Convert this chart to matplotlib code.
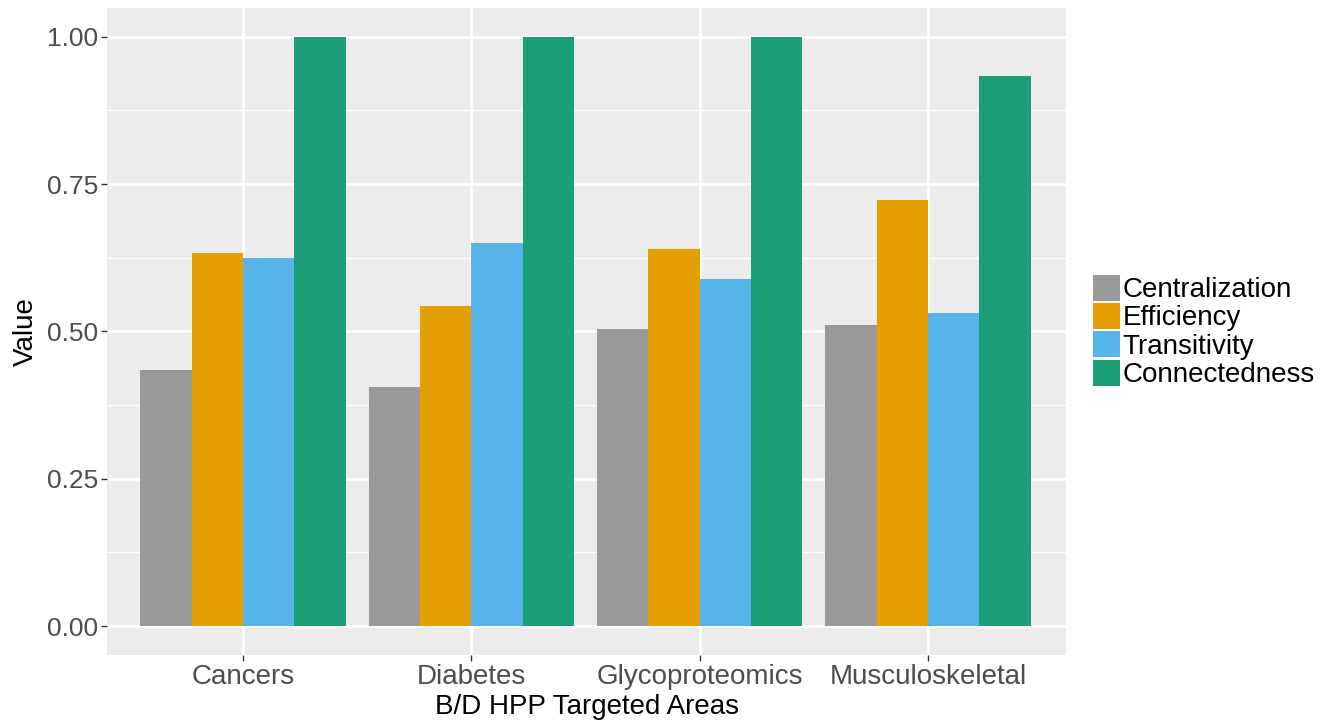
import numpy as np
import matplotlib
matplotlib.use("Agg")
import matplotlib.pyplot as plt
from matplotlib.patches import Patch

plt.rcParams['font.family'] = ['Liberation Sans', 'DejaVu Sans']

# data
areas = ["Cancers", "Diabetes", "Glycoproteomics", "Musculoskeletal"]
metrics = ["Centralization", "Efficiency", "Transitivity", "Connectedness"]
centralization = [0.435, 0.406, 0.504, 0.511]
efficiency = [0.633, 0.543, 0.640, 0.723]
transitivity = [0.625, 0.650, 0.589, 0.531]
connectedness = [1.000, 1.000, 1.000, 0.934]
colors = ["#999999", "#E69F00", "#56B4E9", "#1B9E77"]

series = [centralization, efficiency, transitivity, connectedness]

fig = plt.figure(figsize=(13.36, 7.23), dpi=100)
ax = fig.add_axes([0.080, 0.094, 0.718, 0.895])
ax.set_facecolor("#EBECEB")

x = np.arange(len(areas))
w = 0.9 / len(metrics)
for i, (vals, c) in enumerate(zip(series, colors)):
    ax.bar(x - 0.45 + w * (i + 0.5), vals, width=w, color=c, zorder=3, linewidth=0)

ax.set_xlim(-0.596, 3.605)
ax.set_ylim(-0.049, 1.049)
ax.set_yticks([0, 0.25, 0.5, 0.75, 1.0])
ax.set_yticklabels(["0.00", "0.25", "0.50", "0.75", "1.00"])
ax.set_yticks([0.125, 0.375, 0.625, 0.875], minor=True)
ax.set_xticks(x)
ax.set_xticklabels(areas)

ax.grid(True, which="major", color="white", linewidth=2.0, zorder=1)
ax.grid(True, which="minor", axis="y", color="white", linewidth=1.0, zorder=1)
for s in ax.spines.values():
    s.set_visible(False)

ax.tick_params(which="major", length=4, width=1, color="#333333",
               labelsize=19, labelcolor="#4D4D4D", pad=2)
ax.tick_params(axis="x", labelsize=20, pad=2.5)
ax.tick_params(which="minor", length=0)

ax.set_xlabel("B/D HPP Targeted Areas", fontsize=20, labelpad=3)
ax.set_ylabel("Value", fontsize=20, labelpad=6)

handles = [Patch(facecolor=c, edgecolor="none") for c in colors]
fig.legend(handles, metrics, loc="center left", bbox_to_anchor=(0.818, 0.5415),
           frameon=False, fontsize=20, handlelength=0.97, handleheight=1.06,
           handletextpad=0.1, labelspacing=0.0, borderaxespad=0, borderpad=0)

fig.savefig("out.png", dpi=100)
